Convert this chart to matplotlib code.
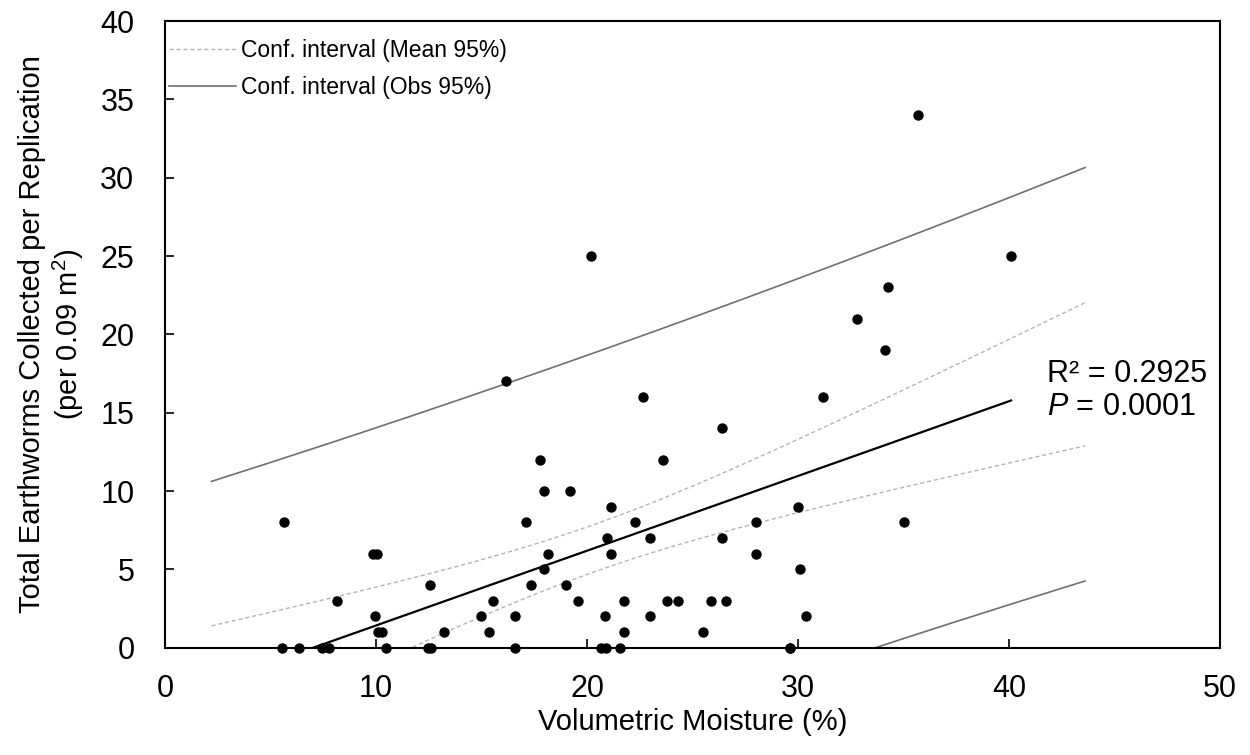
import matplotlib
matplotlib.use('Agg')
import matplotlib.pyplot as plt
import numpy as np

plt.rcParams['font.family'] = 'Liberation Sans'
plt.rcParams['mathtext.fontset'] = 'custom'
plt.rcParams['mathtext.rm'] = 'Liberation Sans'
plt.rcParams['mathtext.it'] = 'Liberation Sans:italic'

# volumetric moisture (%) and total earthworms per replication
# (two overlapping markers sit at 29.6 % / 0 worms)
moisture = [5.54, 6.35, 7.43, 7.79, 10.47, 12.45, 12.6, 16.57, 20.66, 20.9, 21.58, 29.6, 29.6,
            10.1, 10.27, 13.2, 15.37, 21.77, 25.5,
            9.97, 14.98, 16.57, 20.87, 23.0, 30.39,
            8.15, 15.56, 19.58, 21.77, 23.79, 24.29, 25.88, 26.59,
            12.57, 17.36, 18.99,
            17.98, 30.09,
            9.86, 10.07, 18.17, 21.16, 28.0,
            20.97, 23.0, 26.4,
            5.65, 17.1, 22.29, 28.0, 35.0,
            21.16, 30.0,
            17.98, 19.18,
            17.77, 23.58,
            26.4,
            22.67, 31.19,
            16.18,
            34.1,
            32.81,
            34.26,
            20.19, 40.1,
            35.67]
worms = [0] * 13 + [1] * 6 + [2] * 6 + [3] * 8 + [4] * 3 + [5] * 2 + [6] * 5 + [7] * 3 \
    + [8] * 5 + [9] * 2 + [10] * 2 + [12] * 2 + [14] + [16] * 2 + [17] + [19] + [21] \
    + [23] + [25] * 2 + [34]

r2_text = 'R² = 0.2925'
p_text = '$P$ = 0.0001'
ci_range = (2.2, 43.6)
t_crit = 1.997

x = np.array(moisture, dtype=float)
y = np.array(worms, dtype=float)
n = len(x)
slope, icpt = np.polyfit(x, y, 1)
resid = y - (slope * x + icpt)
s = np.sqrt(np.sum(resid ** 2) / (n - 2))
sxx = np.sum((x - x.mean()) ** 2)

xc = np.linspace(ci_range[0], ci_range[1], 200)
yc = slope * xc + icpt
hw_mean = t_crit * s * np.sqrt(1 / n + (xc - x.mean()) ** 2 / sxx)
hw_obs = t_crit * s * np.sqrt(1 + 1 / n + (xc - x.mean()) ** 2 / sxx)

fig = plt.figure(figsize=(12.5, 7.55), dpi=100)
ax = fig.add_axes([0.132, 0.142, 0.844, 0.830])

ax.plot(xc, yc + hw_mean, color='#b4b4b4', lw=1.0, ls=(0, (3, 2)), label='Conf. interval (Mean 95%)')
ax.plot(xc, yc - hw_mean, color='#b4b4b4', lw=1.0, ls=(0, (3, 2)))
ax.plot(xc, yc + hw_obs, color='#707070', lw=1.2, label='Conf. interval (Obs 95%)')
ax.plot(xc, yc - hw_obs, color='#707070', lw=1.2)

xl = np.array([x.min(), x.max()])
ax.plot(xl, slope * xl + icpt, color='black', lw=1.6)
ax.scatter(x, y, s=42, color='black', zorder=3, clip_on=False)

ax.set_xlim(0, 50)
ax.set_ylim(0, 40)
ax.set_xticks(range(0, 51, 10))
ax.set_yticks(range(0, 41, 5))
ax.tick_params(direction='in', length=6.5, width=1.2, labelsize=22)
ax.tick_params(axis='x', pad=19)
ax.tick_params(axis='y', pad=22)
for sp in ax.spines.values():
    sp.set_linewidth(1.5)

ax.set_xlabel('Volumetric Moisture (%)', fontsize=21, labelpad=3)
ax.set_ylabel('Total Earthworms Collected per Replication\n(per 0.09 m$^2$)', fontsize=21, labelpad=10)

ax.text(41.8, 17.5, r2_text, fontsize=22, va='center', ha='left')
ax.text(41.8, 15.4, p_text, fontsize=22, va='center', ha='left')

ax.legend(loc='upper left', bbox_to_anchor=(0.004, 0.971), frameon=False, fontsize=16.5,
          handlelength=2.9, handletextpad=0.22, labelspacing=0.6, borderpad=0, borderaxespad=0)

fig.savefig('out.png', dpi=100)
